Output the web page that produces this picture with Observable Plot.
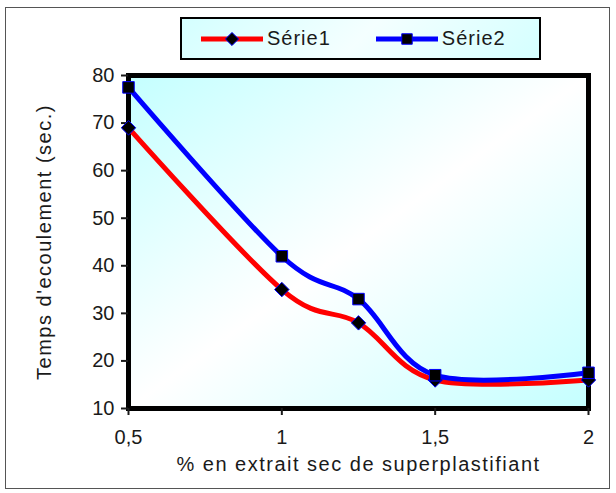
<!DOCTYPE html>
<html><head><meta charset="utf-8">
<script src="https://cdn.jsdelivr.net/npm/d3@7"></script>
<script src="https://cdn.jsdelivr.net/npm/@observablehq/plot@0.6"></script>
<style>
body{margin:0;background:#fff;font-family:"Liberation Sans",Arial,sans-serif;}
#wrap{position:relative;width:616px;height:493px;overflow:hidden;}
#border{position:absolute;left:5px;top:7px;width:605px;height:482px;border:1.5px solid #555;box-sizing:border-box;pointer-events:none;}
#legend{position:absolute;left:180px;top:17px;width:361px;height:43px;box-sizing:border-box;border:2px solid #000;background:linear-gradient(135deg,#d4ffff,#f4ffff 50%,#d4ffff);display:flex;align-items:center;font-size:20px;letter-spacing:1px;color:#1a1a1a;}
.item{display:flex;align-items:center;margin-left:18px;}
.item + .item{margin-left:44px;}
.item svg{margin-right:3px;}
</style>
</head><body>
<div id="wrap"><div id="chart"></div><div id="legend"></div><div id="border"></div></div>
<script>
const xValues = [0.5, 1, 1.25, 1.5, 2];
const serie1 = [69, 35, 28, 16, 16];
const serie2 = [77.5, 42, 33, 17, 17.5];
const seriesNames = ["Série1", "Série2"];
const seriesColors = ["#ff0000", "#0000ff"];
const seriesSymbols = ["diamond2", "square"];
const yTicks = [10, 20, 30, 40, 50, 60, 70, 80];
const xTicks = [0.5, 1, 1.5, 2];
const xTitle = "% en extrait sec de superplastifiant";
const yTitle = "Temps d'ecoulement (sec.)";

const data = [];
[serie1, serie2].forEach((s, i) => s.forEach((v, j) => data.push({serie: seriesNames[i], x: xValues[j], y: v})));

const plot = Plot.plot({
  width: 616, height: 493,
  marginLeft: 128, marginRight: 28, marginTop: 75, marginBottom: 85,
  style: {fontFamily: "'Liberation Sans', Arial, sans-serif", fontSize: "20px", color: "#1a1a1a", background: "transparent"},
  x: {domain: [0.5, 2]},
  y: {domain: [10, 80]},
  color: {domain: seriesNames, range: seriesColors},
  symbol: {domain: seriesNames, range: seriesSymbols},
  marks: [
    Plot.frame({fill: "url(#bg)", stroke: "#000", strokeWidth: 5}),
    Plot.axisY({ticks: yTicks, tickSize: 7, tickPadding: 7, strokeWidth: 2, label: yTitle, labelAnchor: "center", labelArrow: "none", labelOffset: 92}),
    Plot.axisX({ticks: xTicks, tickSize: 7, tickPadding: 14, strokeWidth: 2, tickFormat: d => String(d).replace(".", ","), label: xTitle, labelAnchor: "center", labelArrow: "none", labelOffset: 62}),
    Plot.line(data, {x: "x", y: "y", z: "serie", stroke: "serie", strokeWidth: 5, curve: "cardinal"}),
    Plot.dot(data, {x: "x", y: "y", symbol: "serie", fill: "#000", stroke: "#0000ff", strokeWidth: 1, r: 6.5})
  ]
});

const defs = d3.create("svg:defs");
const g = defs.append("linearGradient").attr("id", "bg").attr("x1", 0).attr("y1", 0).attr("x2", 1).attr("y2", 1);
g.append("stop").attr("offset", "0%").attr("stop-color", "#c4ffff");
g.append("stop").attr("offset", "50%").attr("stop-color", "#ffffff");
g.append("stop").attr("offset", "100%").attr("stop-color", "#c4ffff");
plot.insertBefore(defs.node(), plot.firstChild);
d3.select(plot).selectAll('[aria-label="y-axis label"] text, [aria-label="x-axis label"] text').style("letter-spacing", "1.5px");
document.getElementById("chart").appendChild(plot);

const legend = d3.select("#legend");
seriesNames.forEach((name, i) => {
  const it = legend.append("div").attr("class", "item");
  const s = it.append("svg").attr("width", 64).attr("height", 16);
  s.append("line").attr("x1", 1).attr("x2", 63).attr("y1", 8).attr("y2", 8).attr("stroke", seriesColors[i]).attr("stroke-width", 5);
  s.append("path").attr("transform", "translate(32,8)")
    .attr("d", d3.symbol(i === 0 ? d3.symbolDiamond2 : d3.symbolSquare, 110)())
    .attr("fill", "#000").attr("stroke", "#0000ff").attr("stroke-width", 1);
  it.append("span").text(name);
});
</script>
</body></html>
